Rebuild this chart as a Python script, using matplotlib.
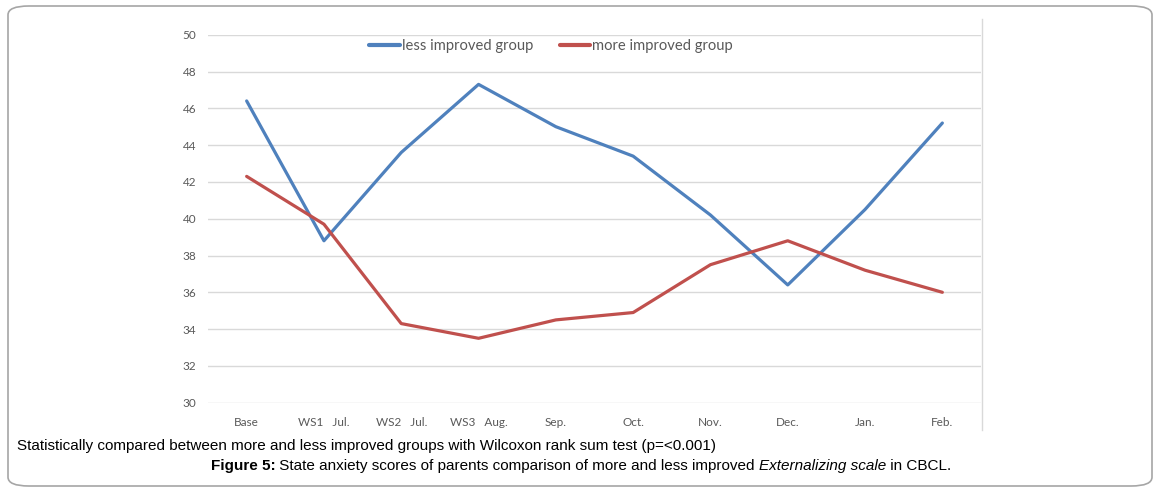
import matplotlib
matplotlib.use("Agg")
import matplotlib.pyplot as plt
from matplotlib.patches import FancyBboxPatch
from matplotlib.lines import Line2D

categories = ["Base", "WS1   Jul.", "WS2   Jul.", "WS3   Aug.", "Sep.", "Oct.",
              "Nov.", "Dec.", "Jan.", "Feb."]
less_improved = [46.4, 38.8, 43.6, 47.3, 45.0, 43.4, 40.2, 36.4, 40.5, 45.2]
more_improved = [42.3, 39.7, 34.3, 33.5, 34.5, 34.9, 37.5, 38.8, 37.2, 36.0]
yticks = [30, 32, 34, 36, 38, 40, 42, 44, 46, 48, 50]
series_names = ["less improved group", "more improved group"]
caption1 = "Statistically compared between more and less improved groups with Wilcoxon rank sum test (p=<0.001)"

W, H = 1158, 492
fig = plt.figure(figsize=(W / 100, H / 100), dpi=100)

# outer rounded frame
frame = FancyBboxPatch((8 / W, 6 / H), (1152 - 8) / W, (486 - 6) / H,
                       boxstyle="round,pad=0,rounding_size=0.018",
                       transform=fig.transFigure, facecolor="white",
                       edgecolor="#a6a6a6", linewidth=1.2, zorder=-10)
fig.add_artist(frame)

ax = fig.add_axes([208 / W, (H - 402.7) / H, 773 / W, 368 / H])
ax.set_facecolor("none")
x = list(range(len(categories)))
ax.plot(x, less_improved, color="#4F81BD", lw=2.3, solid_capstyle="round",
        solid_joinstyle="round", label=series_names[0])
ax.plot(x, more_improved, color="#C0504D", lw=2.3, solid_capstyle="round",
        solid_joinstyle="round", label=series_names[1])
ax.set_xlim(-0.5, len(categories) - 0.5)
ax.set_ylim(30, 50)
ax.set_yticks(yticks)
ax.set_xticks(x)
ax.set_xticklabels(categories)
for s in ax.spines.values():
    s.set_visible(False)
ax.grid(axis="y", color="#d9d9d9", lw=1)
ax.set_axisbelow(True)
ax.tick_params(length=0, colors="#595959", labelsize=8.5)
ax.tick_params(axis="y", pad=8.5)
ax.tick_params(axis="x", pad=10)
for lab in ax.get_xticklabels() + ax.get_yticklabels():
    lab.set_family(["Lato", "DejaVu Sans"])

leg = ax.legend(loc="center", bbox_to_anchor=(551 / W, 1 - 46 / H),
                bbox_transform=fig.transFigure, ncol=2, frameon=False,
                handlelength=2.1, handletextpad=0.1, columnspacing=1.8,
                prop={"family": ["Lato", "DejaVu Sans"], "size": 10.6})
for t in leg.get_texts():
    t.set_color("#595959")
for h in leg.get_lines():
    h.set_linewidth(3)

# right border line of the embedded chart
fig.add_artist(Line2D([981.5 / W, 981.5 / W], [1 - 19 / H, 1 - 430 / H],
                      transform=fig.transFigure, color="#d9d9d9", lw=1))

cap_font = ["Liberation Sans", "DejaVu Sans"]
fig.text(17 / W, 1 - 446 / H, caption1, ha="left", va="center",
         fontsize=11, family=cap_font, color="black")

# second caption line with mixed styles
parts = [("Figure 5:", "bold", "normal"),
         (" State anxiety scores of parents comparison of more and less improved ", "normal", "normal"),
         ("Externalizing scale", "normal", "italic"),
         (" in CBCL.", "normal", "normal")]
renderer = fig.canvas.get_renderer()
texts = []
widths = []
for s, wgt, sty in parts:
    t = fig.text(0, 1 - 466 / H, s, ha="left", va="center", fontsize=11,
                 family=cap_font, weight=wgt, style=sty, color="black")
    texts.append(t)
    widths.append(t.get_window_extent(renderer).width)
total = sum(widths)
cx = 581
start = cx - total / 2
for t, w in zip(texts, widths):
    t.set_x(start / W)
    start += w

fig.savefig("out.png", dpi=100)
